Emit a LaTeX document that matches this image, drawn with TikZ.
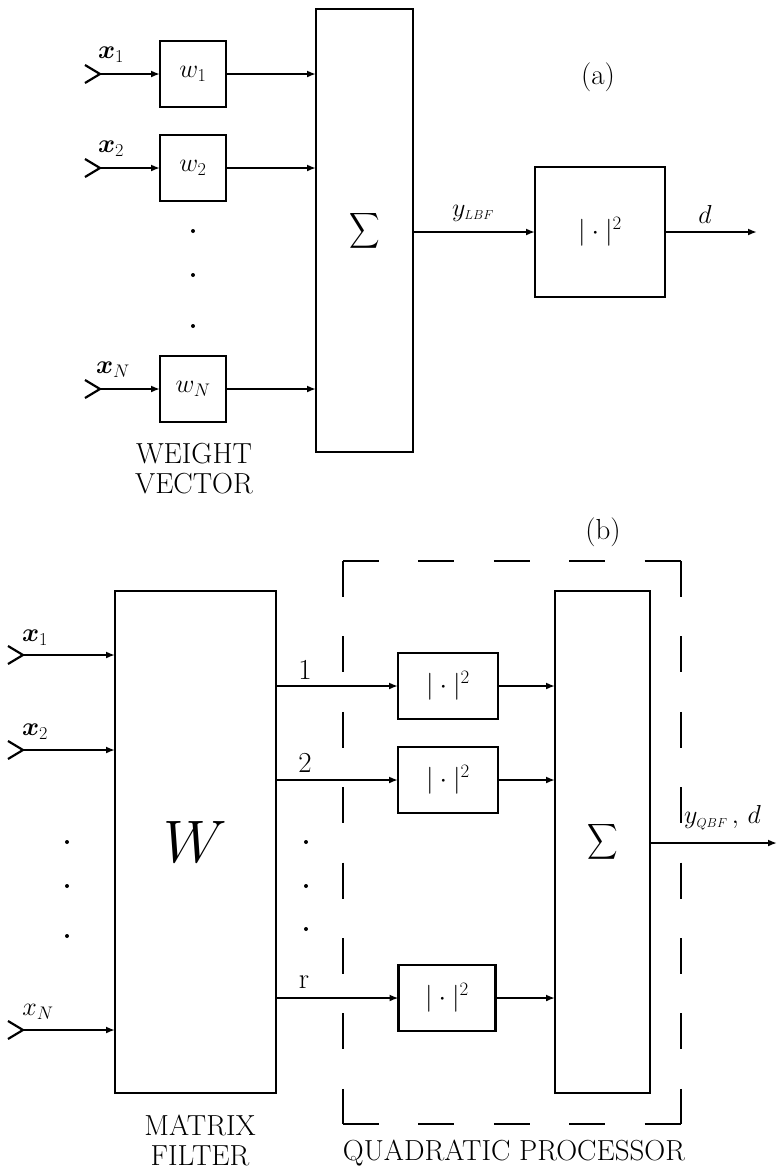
\RequirePackage{fix-cm}
\documentclass[tikz,border=0pt]{standalone}
\usepackage{amsmath,bm}
\usetikzlibrary{arrows.meta}
\tikzset{
  every node/.style={font=\fontsize{26}{31}\selectfont},
  blk/.style={draw,line width=2.6pt,inner sep=0pt,outer sep=0pt},
  conn/.style={line width=2.5pt,-{Latex[length=9pt,width=7pt]}},
  ant/.style={line width=2.2pt},
  dotmark/.style={fill,circle,inner sep=0pt,minimum size=4pt},
  qbox/.style={line width=2.8pt,dash pattern=on 36pt off 39.4pt},
  lbl/.style={inner sep=0pt},
  txt/.style={inner sep=0pt,font=\fontsize{29}{33}\selectfont}
}
\newcommand{\antenna}[1]{\draw[ant] ([shift={(-15,-9)}]#1) -- (#1) -- ([shift={(-15,9)}]#1);}
\begin{document}
\begin{tikzpicture}[x=1pt,y=-1pt]
\useasboundingbox (0,0) rectangle (784,1176);
% ---------------- (a) ----------------
\node[blk,minimum width=66pt,minimum height=66pt] (w1) at (193,74) {$w_1$};
\node[blk,minimum width=66pt,minimum height=66pt] (w2) at (193,168) {$w_2$};
\node[blk,minimum width=66pt,minimum height=66pt] (wN) at (193,389) {$w_N$};
\node[blk,minimum width=97pt,minimum height=443pt] (sA) at (364.5,230.5) {\fontsize{28}{30}\selectfont\scalebox{0.85}[1]{$\displaystyle\sum$}};
\node[blk,minimum width=130pt,minimum height=130pt] (aA) at (600,232) {\fontsize{27}{31}\selectfont$|\cdot|^2$};
\coordinate (t1) at (100,74);
\coordinate (t2) at (100,168);
\coordinate (tN) at (100,389);
\antenna{t1}\antenna{t2}\antenna{tN}
\draw[conn] (t1) -- (w1);
\draw[conn] (t2) -- (w2);
\draw[conn] (tN) -- (wN);
\draw[conn] (w1.east) -- (w1.east -| sA.west);
\draw[conn] (w2.east) -- (w2.east -| sA.west);
\draw[conn] (wN.east) -- (wN.east -| sA.west);
\draw[conn] (sA.east |- aA.west) -- (aA.west);
\coordinate (dA) at (757,232);
\draw[conn] (aA.east) -- (dA);
\node[lbl] (lx1) at (111,55) {$\bm{x}_1$};
\node[lbl] (lx2) at (111,149) {$\bm{x}_2$};
\node[lbl] (lxN) at (113,370) {$\bm{x}_N$};
\node[dotmark] (da1) at (193,231) {};
\node[dotmark] (da2) at (193,275) {};
\node[dotmark] (da3) at (193,326) {};
\node[txt,align=center] (wv) at (194,469) {WEIGHT\\[-3pt]VECTOR};
\node[lbl] (ylbf) at (473,213) {$y_{\scriptscriptstyle LBF}$};
\node[lbl] (ld) at (705,214) {$d$};
\node[txt] (la) at (598,77) {(a)};
% ---------------- (b) ----------------
\node[blk,minimum width=161pt,minimum height=502pt] (W) at (195.5,842) {\fontsize{60}{60}\selectfont$W$};
\node[blk,minimum width=95pt,minimum height=502pt] (sB) at (602.5,842) {\fontsize{28}{30}\selectfont\scalebox{0.85}[1]{$\displaystyle\sum$}};
\node[blk,minimum width=100pt,minimum height=66pt] (b1) at (448,686) {\fontsize{27}{31}\selectfont$|\cdot|^2$};
\node[blk,minimum width=100pt,minimum height=66pt] (b2) at (448,780) {\fontsize{27}{31}\selectfont$|\cdot|^2$};
\node[blk,minimum width=97pt,minimum height=66pt] (b3) at (447,998) {\fontsize{27}{31}\selectfont$|\cdot|^2$};
\coordinate (u1) at (23,655);
\coordinate (u2) at (23,750);
\coordinate (uN) at (23,1030);
\antenna{u1}\antenna{u2}\antenna{uN}
\draw[conn] (u1) -- (u1 -| W.west);
\draw[conn] (u2) -- (u2 -| W.west);
\draw[conn] (uN) -- (uN -| W.west);
\draw[conn] (W.east |- b1.west) -- (b1.west);
\draw[conn] (W.east |- b2.west) -- (b2.west);
\draw[conn] (W.east |- b3.west) -- (b3.west);
\draw[conn] (b1.east) -- (b1.east -| sB.west);
\draw[conn] (b2.east) -- (b2.east -| sB.west);
\draw[conn] (b3.east) -- (b3.east -| sB.west);
\coordinate (dB) at (777,843);
\draw[conn] (sB.east |- dB) -- (dB);
\node[lbl] (mx1) at (35,638) {$\bm{x}_1$};
\node[lbl] (mx2) at (35,732) {$\bm{x}_2$};
\node[lbl] (mxN) at (38,1012) {$x_N$};
\node[dotmark] (db1) at (67,842) {};
\node[dotmark] (db2) at (67,886) {};
\node[dotmark] (db3) at (67,936) {};
\node[dotmark] (dc1) at (306,842) {};
\node[dotmark] (dc2) at (306,886) {};
\node[dotmark] (dc3) at (306,929) {};
\node[txt] (n1) at (305,670) {1};
\node[txt] (n2) at (305,763) {2};
\node[txt] (nr) at (304,982) {r};
\node[lbl,anchor=west] (yq) at (684,818) {$y_{\scriptscriptstyle QBF}\,,\,d$};
\node[txt] (lb) at (603,532) {(b)};
% dashed quadratic processor frame
\coordinate (q1) at (343,561);
\coordinate (q2) at (681,561);
\coordinate (q3) at (681,1124);
\coordinate (q4) at (343,1124);
\draw[qbox] (q1) -- (q2);
\draw[qbox] (q2) -- (q3);
\draw[qbox] (q4) -- (q3);
\draw[qbox] (q1) -- (q4);
\node[txt,align=center] (mf) at (200,1140) {MATRIX\\[-3pt]FILTER};
\node[txt] (qp) at (514,1153) {QUADRATIC PROCESSOR};
\end{tikzpicture}
\end{document}
